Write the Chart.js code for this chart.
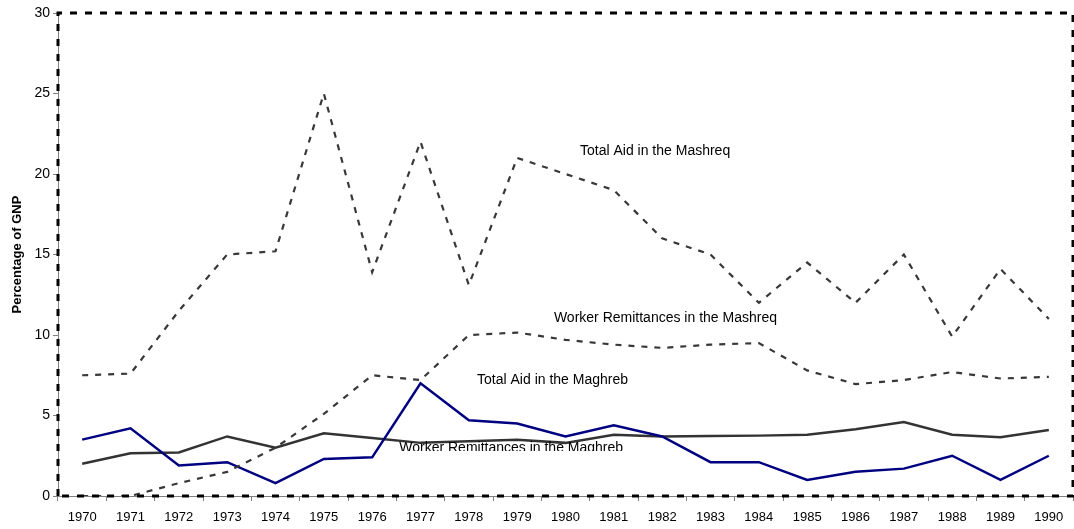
<!DOCTYPE html>
<html>
<head>
<meta charset="utf-8">
<script src="https://cdn.jsdelivr.net/npm/chart.js@4.4.1/dist/chart.umd.min.js"></script>
<style>
  html, body { margin: 0; padding: 0; background: #ffffff; }
  #wrap { width: 1074px; height: 529px; position: relative; }
</style>
</head>
<body>
<div id="wrap"><canvas id="chart" width="1074" height="529"></canvas></div>
<script>
// Years along the horizontal axis
const years = ['1970','1971','1972','1973','1974','1975','1976','1977','1978','1979','1980',
               '1981','1982','1983','1984','1985','1986','1987','1988','1989','1990'];

// Shares of GNP (%)
const aidMashreq = [7.5, 7.6, 11.5, 15.0, 15.2, 25.0, 13.9, 22.0, 13.1, 21.0, 20.0,
                    19.0, 16.0, 15.0, 12.0, 14.5, 12.0, 15.0, 9.9, 14.1, 11.0];
const remitMashreq = [0.0, 0.0, 0.8, 1.5, 3.0, 5.1, 7.5, 7.2, 10.0, 10.15, 9.7,
                      9.4, 9.2, 9.4, 9.5, 7.8, 6.95, 7.2, 7.7, 7.3, 7.4];
const aidMaghreb = [3.5, 4.2, 1.9, 2.1, 0.8, 2.3, 2.4, 7.0, 4.7, 4.5, 3.7,
                    4.4, 3.7, 2.1, 2.1, 1.0, 1.5, 1.7, 2.5, 1.0, 2.5];
const remitMaghreb = [2.0, 2.65, 2.7, 3.7, 3.0, 3.9, 3.6, 3.3, 3.4, 3.5, 3.3,
                      3.8, 3.7, 3.72, 3.75, 3.8, 4.15, 4.6, 3.8, 3.65, 4.1];

// Vertical axis range and step
const yMin = 0, yMax = 30, yStep = 5;

// In-plot series captions: [text, category position, value]
const captions = [
  ['Total Aid in the Mashreq', 10.30, 21.45],
  ['Worker Remittances in the Mashreq', 9.76, 11.05],
  ['Total Aid in the Maghreb', 8.17, 7.2],
  ['Worker Remittances in the Maghreb', 6.56, 3.0]
];
// The last caption is cut off below this value
const captionClipValue = 2.8;

const FONT = '"Liberation Sans", Arial, Helvetica, sans-serif';

// Dashed frame around the plot area
const frame = {
  id: 'frame',
  afterDatasetsDraw(chart) {
    const {ctx, chartArea: a} = chart;
    ctx.save();
    ctx.strokeStyle = '#000000';
    ctx.lineWidth = 3;
    ctx.setLineDash([7, 8]);
    ctx.beginPath();
    ctx.moveTo(a.left, a.bottom);
    ctx.lineTo(a.left, a.top);
    ctx.lineTo(a.right, a.top);
    ctx.lineTo(a.right, a.bottom);
    ctx.lineTo(a.left, a.bottom);
    ctx.stroke();
    ctx.restore();
  }
};

// Series captions placed in data coordinates
const captionPlugin = {
  id: 'captions',
  afterDraw(chart) {
    const {ctx} = chart;
    const xs = chart.scales.x, ys = chart.scales.y;
    ctx.save();
    ctx.font = '14px ' + FONT;
    ctx.fillStyle = '#000000';
    ctx.textAlign = 'left';
    ctx.textBaseline = 'middle';
    captions.forEach(([text, cx, cy], i) => {
      const px = xs.getPixelForValue(cx);
      const py = ys.getPixelForValue(cy);
      if (i === captions.length - 1) {
        ctx.save();
        ctx.beginPath();
        ctx.rect(0, 0, chart.width, ys.getPixelForValue(captionClipValue));
        ctx.clip();
        ctx.fillText(text, px, py);
        ctx.restore();
      } else {
        ctx.fillText(text, px, py);
      }
    });
    ctx.restore();
  }
};

const dashedSeries = {borderColor: '#383838', borderWidth: 2.2, borderDash: [6, 7]};
const solidWidth = 2.5;

new Chart(document.getElementById('chart'), {
  type: 'line',
  data: {
    labels: years,
    datasets: [
      Object.assign({label: 'Total Aid in the Mashreq', data: aidMashreq}, dashedSeries),
      Object.assign({label: 'Worker Remittances in the Mashreq', data: remitMashreq}, dashedSeries),
      {label: 'Total Aid in the Maghreb', data: aidMaghreb, borderColor: '#000080', borderWidth: solidWidth},
      {label: 'Worker Remittances in the Maghreb', data: remitMaghreb, borderColor: '#333333', borderWidth: solidWidth}
    ]
  },
  options: {
    responsive: false,
    animation: false,
    devicePixelRatio: 1,
    layout: {padding: {left: 0, top: 13, right: 1, bottom: 0}},
    elements: {
      point: {radius: 0, hoverRadius: 0},
      line: {tension: 0, fill: false, borderCapStyle: 'butt', borderJoinStyle: 'miter'}
    },
    plugins: {legend: {display: false}, tooltip: {enabled: false}},
    scales: {
      x: {
        type: 'category',
        offset: true,
        afterFit(scale) { scale.height = 33; },
        grid: {offset: true, drawOnChartArea: false, drawTicks: true, tickLength: 5, color: '#808080', lineWidth: 1},
        border: {display: true, color: '#808080', width: 1},
        ticks: {color: '#000000', font: {family: FONT, size: 13}, padding: 9, maxRotation: 0, autoSkip: false}
      },
      y: {
        min: yMin,
        max: yMax,
        afterFit(scale) { scale.width = 58; },
        grid: {drawOnChartArea: false, drawTicks: true, tickLength: 5, color: '#808080', lineWidth: 1},
        border: {display: true, color: '#808080', width: 1},
        ticks: {stepSize: yStep, color: '#000000', font: {family: FONT, size: 14}, padding: 3},
        title: {display: true, text: 'Percentage of GNP', color: '#000000',
                font: {family: FONT, size: 13, weight: 'bold'}, padding: {top: 10, bottom: 0}}
      }
    }
  },
  plugins: [frame, captionPlugin]
});
</script>
</body>
</html>
